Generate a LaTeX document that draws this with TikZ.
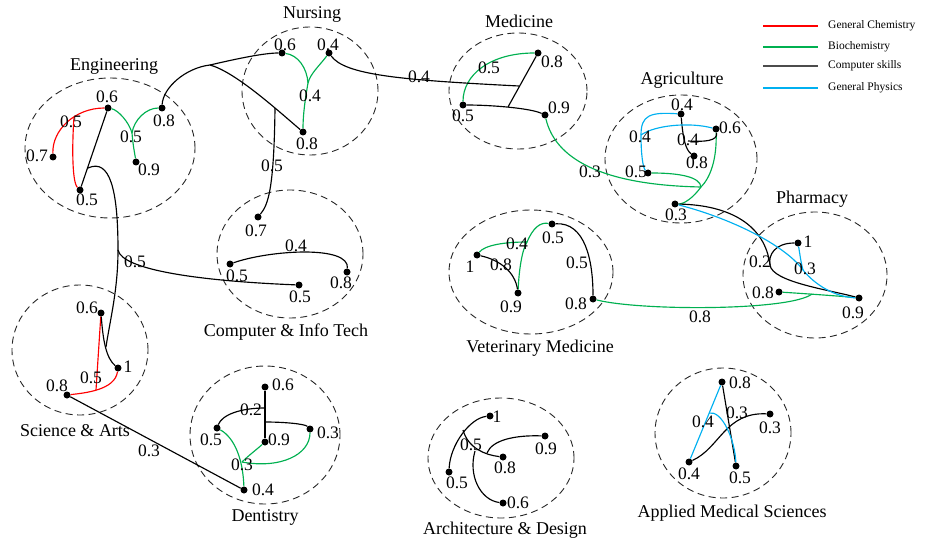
\documentclass[tikz,border=0pt]{standalone}
\usepackage{fontspec}
\setmainfont{Liberation Serif}
\definecolor{chemred}{RGB}{255,0,0}
\definecolor{biogreen}{RGB}{0,176,80}
\definecolor{physblue}{RGB}{0,176,240}
\begin{document}
\begin{tikzpicture}[x=1pt,y=-1pt,
  dot/.style={circle,fill=black,inner sep=0pt,minimum size=7pt},
  grp/.style={draw=black!85,line width=0.9pt,dash pattern=on 7pt off 4.5pt},
  lbl/.style={font=\fontsize{17.5}{18}\selectfont,inner sep=0pt},
  ttl/.style={font=\fontsize{18}{20}\selectfont,inner sep=0pt},
  leg/.style={font=\fontsize{11.5}{13}\selectfont,inner sep=0pt,anchor=west},
  edge/.style={line width=1.15pt},
  chem/.style={edge,draw=chemred},
  bio/.style={edge,draw=biogreen},
  comp/.style={edge,draw=black},
  phys/.style={edge,draw=physblue}]
\useasboundingbox (0,0) rectangle (925,545);

% ---------- college groups ----------
\draw[grp] (110,148) ellipse [x radius=85pt, y radius=70pt];
\draw[grp] (310,91)  ellipse [x radius=68pt, y radius=64pt];
\draw[grp] (518,91)  ellipse [x radius=69pt, y radius=58pt];
\draw[grp] (681,159) ellipse [x radius=76pt, y radius=64pt];
\draw[grp] (815,275) ellipse [x radius=72pt, y radius=63pt];
\draw[grp] (531,272) ellipse [x radius=82pt, y radius=62pt];
\draw[grp] (290,254) ellipse [x radius=73pt, y radius=64pt];
\draw[grp] (80,350)  ellipse [x radius=68pt, y radius=65pt];
\draw[grp] (265,435) ellipse [x radius=75pt, y radius=69pt];
\draw[grp] (501,458) ellipse [x radius=73pt, y radius=60pt];
\draw[grp] (723,433) ellipse [x radius=68pt, y radius=65pt];

% ---------- titles ----------
\node[ttl] (tEng)  at (114,66)  {Engineering};
\node[ttl] (tNur)  at (312,14)  {Nursing};
\node[ttl] (tMed)  at (519,21)  {Medicine};
\node[ttl] (tAgr)  at (682,80)  {Agriculture};
\node[ttl] (tPha)  at (812,199) {Pharmacy};
\node[ttl] (tVet)  at (540,348) {Veterinary Medicine};
\node[ttl] (tCIT)  at (286,332) {Computer \& Info Tech};
\node[ttl] (tSA)   at (75,431)  {Science \& Arts};
\node[ttl] (tDen)  at (265,517) {Dentistry};
\node[ttl] (tArc)  at (505,530) {Architecture \& Design};
\node[ttl] (tAMS)  at (732,513) {Applied Medical Sciences};

% ---------- students (dots) ----------
% Engineering
\node[dot] (E6) at (108,108) {};
\node[dot] (E7) at (53,157) {};
\node[dot] (E5) at (80,190) {};
\node[dot] (E8) at (162,108) {};
\node[dot] (E9) at (136,162) {};
% Nursing
\node[dot] (N6) at (282,53) {};
\node[dot] (N4) at (329,53) {};
\node[dot] (N8) at (303,132) {};
% Medicine
\node[dot] (M8) at (538,53) {};
\node[dot] (M5) at (463,105) {};
\node[dot] (M9) at (545,115) {};
% Agriculture
\node[dot] (A4) at (681,114) {};
\node[dot] (A6) at (716,129) {};
\node[dot] (A8) at (694,156) {};
\node[dot] (A5) at (648,173) {};
\node[dot] (A3) at (675,204) {};
% Pharmacy
\node[dot] (P1) at (798,243) {};
\node[dot] (P8) at (779,292) {};
\node[dot] (P9) at (859,298) {};
% Veterinary Medicine
\node[dot] (V1) at (477,255) {};
\node[dot] (V5) at (552,224) {};
\node[dot] (V9) at (518,293) {};
\node[dot] (V8) at (593,299) {};
% Computer & Info Tech
\node[dot] (C7)  at (258,217) {};
\node[dot] (C5a) at (230,264) {};
\node[dot] (C8)  at (347,272) {};
\node[dot] (C5b) at (299,285) {};
% Science & Arts
\node[dot] (S6) at (101,313) {};
\node[dot] (S1) at (118,368) {};
\node[dot] (S8) at (67,395) {};
% Dentistry
\node[dot] (D6) at (265,387) {};
\node[dot] (D5) at (217,428) {};
\node[dot] (D9) at (265,442) {};
\node[dot] (D3) at (310,429) {};
\node[dot] (D4) at (244,490) {};
% Architecture & Design
\node[dot] (R1) at (490,416) {};
\node[dot] (R9) at (545,436) {};
\node[dot] (R8) at (503,457) {};
\node[dot] (R5) at (449,472) {};
\node[dot] (R6) at (503,503) {};
% Applied Medical Sciences
\node[dot] (Q8) at (722,382) {};
\node[dot] (Q3) at (770,414) {};
\node[dot] (Q4) at (689,462) {};
\node[dot] (Q5) at (736,466) {};

% ---------- bundling junctions ----------
\coordinate (ERj) at (74,117);
\coordinate (EGj) at (132,133);
\coordinate (EBj) at (88,168);
\coordinate (EBs) at (118,250);
\coordinate (SJ)  at (106,347);
\coordinate (SRj) at (96,390);
\coordinate (NJ)  at (210,65);
\coordinate (NV)  at (275,108);
\coordinate (NGj) at (308,83);
\coordinate (MJ)  at (519,86);
\coordinate (MJ2) at (508,107);
\coordinate (AGj) at (701,187);
\coordinate (ABj) at (641,135);
\coordinate (AKj) at (688,141);
\coordinate (PJ)  at (770,265);
\coordinate (PBj) at (803,270);
\coordinate (PGj) at (812,294);
\coordinate (VGj) at (527,242);
\coordinate (DJa) at (265,408);
\coordinate (DJb) at (265,422);
\coordinate (DGj) at (242,462);
\coordinate (RJa) at (463,430);
\coordinate (RJb) at (487,453);
\coordinate (RJc) at (475,451);
\coordinate (QBj) at (709,413);

% ---------- General Chemistry ----------
\draw[chem] (E7) .. controls (52,130) and (75,108) .. (E6);
\draw[chem] (E5) .. controls (72,182) and (72,145) .. (ERj);
\draw[chem] (S8) .. controls (85,393) and (115,390) .. (S1);
\draw[chem] (S6) -- (SRj);

% ---------- Biochemistry ----------
\draw[bio] (E6) .. controls (118,110) and (129,122) .. (EGj);
\draw[bio] (E8) .. controls (146,108) and (134,120) .. (EGj);
\draw[bio] (EGj) .. controls (133,146) and (135,155) .. (E9);
\draw[bio] (N6) .. controls (298,55) and (307,68) .. (NGj);
\draw[bio] (N4) .. controls (320,65) and (310,74) .. (NGj);
\draw[bio] (NGj) .. controls (305,100) and (303,115) .. (N8);
\draw[bio] (M5) .. controls (463,75) and (490,53) .. (M8);
\draw[bio] (M9) .. controls (555,158) and (600,185) .. (AGj);
\draw[bio] (A5) .. controls (680,173) and (700,177) .. (AGj);
\draw[bio] (A6) .. controls (717,160) and (710,178) .. (AGj);
\draw[bio] (AGj) .. controls (693,198) and (684,204) .. (A3);
\draw[bio] (P8) .. controls (795,293) and (840,296) .. (P9);
\draw[bio] (V8) .. controls (640,311) and (790,311) .. (PGj);
\draw[bio] (V1) .. controls (485,245) and (505,242) .. (VGj);
\draw[bio] (V9) .. controls (519,270) and (522,250) .. (VGj);
\draw[bio] (VGj) .. controls (533,228) and (540,222) .. (V5);
\draw[bio] (D5) .. controls (235,438) and (243,460) .. (D4);
\draw[bio] (D9) .. controls (256,450) and (248,456) .. (DGj);
\draw[bio] (D3) .. controls (310,455) and (280,469) .. (DGj);

% ---------- Computer skills ----------
\draw[comp] (E5) -- (E6);
\draw[comp] (EBj) .. controls (110,158) and (118,190) .. (EBs);
\draw[comp] (EBs) .. controls (122,270) and (200,281) .. (C5b);
\draw[comp] (EBs) .. controls (118,290) and (110,320) .. (SJ);
\draw[comp] (S6) .. controls (103,340) and (106,358) .. (S1);
\draw[comp] (S8) -- (D4);
\draw[comp] (E8) .. controls (163,88) and (185,68) .. (NJ);
\draw[comp] (NJ) .. controls (240,58) and (265,53) .. (N6);
\draw[comp] (NJ) .. controls (235,72) and (275,108) .. (N8);
\draw[comp] (NV) .. controls (274,190) and (268,205) .. (C7);
\draw[comp] (N4) .. controls (345,75) and (400,80) .. (MJ);
\draw[comp] (M8) -- (MJ2);
\draw[comp] (M5) .. controls (490,105) and (530,108) .. (M9);
\draw[comp] (A4) .. controls (683,140) and (686,150) .. (A8);
\draw[comp] (A6) .. controls (718,141) and (705,142) .. (AKj);
\draw[comp] (A3) .. controls (730,205) and (765,225) .. (PJ);
\draw[comp] (P1) .. controls (775,243) and (768,255) .. (PJ);
\draw[comp] (PJ) .. controls (772,282) and (830,290) .. (P9);
\draw[comp] (V1) .. controls (500,260) and (515,272) .. (V9);
\draw[comp] (V5) .. controls (585,222) and (593,260) .. (V8);
\draw[comp] (C5a) .. controls (270,250) and (350,245) .. (C8);
\draw[comp] (D6) -- (D9);
\draw[comp] (D5) .. controls (222,415) and (240,408) .. (DJa);
\draw[comp] (DJb) .. controls (285,422) and (305,424) .. (D3);
\draw[comp] (R1) .. controls (470,418) and (450,445) .. (R5);
\draw[comp] (RJa) .. controls (468,448) and (485,455) .. (R8);
\draw[comp] (R9) .. controls (515,435) and (492,440) .. (RJb);
\draw[comp] (R6) .. controls (480,500) and (468,475) .. (RJc);
\draw[comp] (Q8) -- (Q5);
\draw[comp] (Q4) .. controls (720,448) and (725,412) .. (Q3);

% ---------- General Physics ----------
\draw[phys] (A4) .. controls (650,112) and (641,115) .. (ABj);
\draw[phys] (A6) .. controls (690,122) and (655,125) .. (ABj);
\draw[phys] (ABj) .. controls (641,155) and (643,168) .. (A5);
\draw[phys] (A3) .. controls (730,218) and (785,245) .. (PBj);
\draw[phys] (PBj) .. controls (815,285) and (835,297) .. (P9);
\draw[phys] (P1) .. controls (800,255) and (801,263) .. (PBj);
\draw[phys] (Q8) -- (Q4);
\draw[phys] (QBj) .. controls (722,410) and (735,440) .. (Q5);

% ---------- grades ----------
\node[lbl] (lE6) at (107,97)  {0.6};
\node[lbl] (lE7) at (37,156)  {0.7};
\node[lbl] (lE5) at (87,200)  {0.5};
\node[lbl] (lE8) at (164,121) {0.8};
\node[lbl] (lE9) at (149,170) {0.9};
\node[lbl] (lEr) at (71,122)  {0.5};
\node[lbl] (lEg) at (131,137) {0.5};
\node[lbl] (lN6) at (285,45)  {0.6};
\node[lbl] (lN4) at (328,45)  {0.4};
\node[lbl] (lNg) at (310,96)  {0.4};
\node[lbl] (lN8) at (307,144) {0.8};
\node[lbl] (lNv) at (272,166) {0.5};
\node[lbl] (lNM) at (419,77)  {0.4};
\node[lbl] (lM8) at (552,62)  {0.8};
\node[lbl] (lMg) at (489,68)  {0.5};
\node[lbl] (lM5) at (463,116) {0.5};
\node[lbl] (lM9) at (559,108) {0.9};
\node[lbl] (lMA) at (590,172) {0.3};
\node[lbl] (lA4) at (682,105) {0.4};
\node[lbl] (lA6) at (730,128) {0.6};
\node[lbl] (lAb) at (640,137) {0.4};
\node[lbl] (lAk) at (688,140) {0.4};
\node[lbl] (lA8) at (697,163) {0.8};
\node[lbl] (lA5) at (636,172) {0.5};
\node[lbl] (lA3) at (676,215) {0.3};
\node[lbl] (lP1) at (808,242) {1};
\node[lbl] (lPk) at (760,262) {0.2};
\node[lbl] (lPb) at (805,269) {0.3};
\node[lbl] (lP8) at (763,293) {0.8};
\node[lbl] (lP9) at (853,313) {0.9};
\node[lbl] (lVP) at (700,317) {0.8};
\node[lbl] (lVg) at (517,244) {0.4};
\node[lbl] (lV5) at (553,238) {0.5};
\node[lbl] (lV1) at (470,267) {1};
\node[lbl] (lVk) at (501,265) {0.8};
\node[lbl] (lVr) at (577,263) {0.5};
\node[lbl] (lV9) at (511,307) {0.9};
\node[lbl] (lV8) at (576,304) {0.8};
\node[lbl] (lC7) at (256,231) {0.7};
\node[lbl] (lCk) at (296,246) {0.4};
\node[lbl] (lCa) at (237,276) {0.5};
\node[lbl] (lCb) at (300,297) {0.5};
\node[lbl] (lC8) at (341,283) {0.8};
\node[lbl] (lEC) at (135,262) {0.5};
\node[lbl] (lS6) at (87,308)  {0.6};
\node[lbl] (lS1) at (128,367) {1};
\node[lbl] (lSr) at (91,378)  {0.5};
\node[lbl] (lS8) at (57,386)  {0.8};
\node[lbl] (lSD) at (149,451) {0.3};
\node[lbl] (lD6) at (283,385) {0.6};
\node[lbl] (lDk) at (251,410) {0.2};
\node[lbl] (lD5) at (211,440) {0.5};
\node[lbl] (lD9) at (279,440) {0.9};
\node[lbl] (lD3) at (328,433) {0.3};
\node[lbl] (lDg) at (242,465) {0.3};
\node[lbl] (lD4) at (263,490) {0.4};
\node[lbl] (lR1) at (497,417) {1};
\node[lbl] (lRk) at (471,445) {0.5};
\node[lbl] (lR9) at (546,449) {0.9};
\node[lbl] (lR8) at (505,468) {0.8};
\node[lbl] (lR5) at (457,483) {0.5};
\node[lbl] (lR6) at (518,503) {0.6};
\node[lbl] (lQ8) at (740,383) {0.8};
\node[lbl] (lQk) at (737,413) {0.3};
\node[lbl] (lQb) at (703,422) {0.4};
\node[lbl] (lQ3) at (770,428) {0.3};
\node[lbl] (lQ4) at (689,474) {0.4};
\node[lbl] (lQ5) at (740,478) {0.5};

% ---------- legend ----------
\coordinate (g1a) at (763,26); \coordinate (g1b) at (818,26);
\coordinate (g2a) at (763,47); \coordinate (g2b) at (818,47);
\coordinate (g3a) at (763,66); \coordinate (g3b) at (818,66);
\coordinate (g4a) at (763,88); \coordinate (g4b) at (818,88);
\draw[chem] (g1a) -- (g1b);
\draw[bio]  (g2a) -- (g2b);
\draw[comp,draw=black!70] (g3a) -- (g3b);
\draw[phys] (g4a) -- (g4b);
\node[leg] (k1) at (828,26) {General Chemistry};
\node[leg] (k2) at (828,47) {Biochemistry};
\node[leg] (k3) at (828,66) {Computer skills};
\node[leg] (k4) at (828,88) {General Physics};
\end{tikzpicture}
\end{document}
